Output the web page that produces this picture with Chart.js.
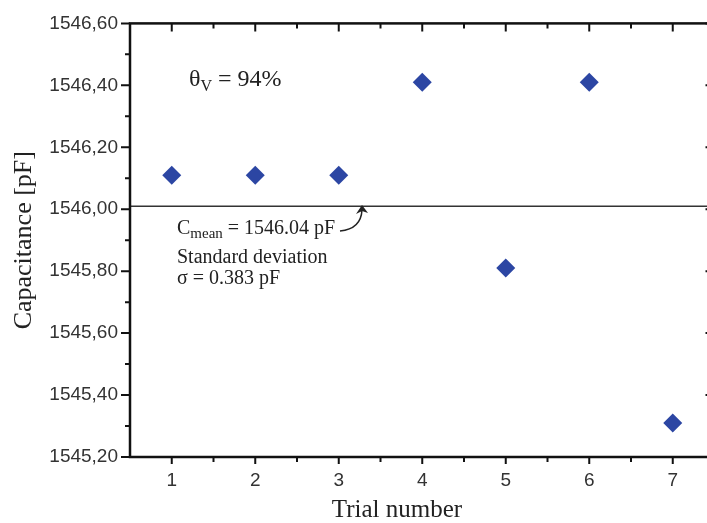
<!DOCTYPE html>
<html>
<head>
<meta charset="utf-8">
<script src="https://cdn.jsdelivr.net/npm/chart.js@4.4.1/dist/chart.umd.min.js"></script>
<style>
html, body { margin: 0; padding: 0; background: #fff; }
#wrap { width: 707px; height: 523px; overflow: hidden; }
canvas { display: block; }
</style>
</head>
<body>
<div id="wrap"><canvas id="capChart" width="725" height="523" style="width:725px;height:523px"></canvas></div>
<script>
// values
const trials = [1, 2, 3, 4, 5, 6, 7];
const capacitance = [1546.11, 1546.11, 1546.11, 1546.41, 1545.81, 1546.41, 1545.31];
const meanLine = 1546.01;
const xTicks = [1, 2, 3, 4, 5, 6, 7];
const xMinor = [1.5, 2.5, 3.5, 4.5, 5.5, 6.5];
const yTicks = [1545.2, 1545.4, 1545.6, 1545.8, 1546.0, 1546.2, 1546.4, 1546.6];
const yMinor = [1545.3, 1545.5, 1545.7, 1545.9, 1546.1, 1546.3, 1546.5];

const serif = '"Liberation Serif", "Times New Roman", serif';
const sans = '"Liberation Sans", Arial, sans-serif';

// draws the box, tick marks and the text notes
const framePlugin = {
    id: 'frame',
    afterDatasetsDraw(chart) {
        const ctx = chart.ctx;
        const a = chart.chartArea;
        const xs = chart.scales.x;
        const ys = chart.scales.y;
        ctx.save();
        ctx.strokeStyle = '#111';
        ctx.lineWidth = 2.5;
        ctx.strokeRect(a.left, a.top, a.right - a.left, a.bottom - a.top);

        ctx.lineWidth = 2;
        ctx.beginPath();
        xTicks.forEach(v => {
            const px = xs.getPixelForValue(v);
            ctx.moveTo(px, a.bottom); ctx.lineTo(px, a.bottom + 7);
            ctx.moveTo(px, a.top); ctx.lineTo(px, a.top + 8);
        });
        xMinor.forEach(v => {
            const px = xs.getPixelForValue(v);
            ctx.moveTo(px, a.bottom); ctx.lineTo(px, a.bottom + 5);
            ctx.moveTo(px, a.top); ctx.lineTo(px, a.top + 5);
        });
        yTicks.forEach(v => {
            const py = ys.getPixelForValue(v);
            ctx.moveTo(a.left, py); ctx.lineTo(a.left - 9, py);
            ctx.moveTo(a.right, py); ctx.lineTo(a.right - 9, py);
        });
        yMinor.forEach(v => {
            const py = ys.getPixelForValue(v);
            ctx.moveTo(a.left, py); ctx.lineTo(a.left - 5, py);
            ctx.moveTo(a.right, py); ctx.lineTo(a.right - 5, py);
        });
        ctx.stroke();

        ctx.fillStyle = '#222';
        ctx.textBaseline = 'alphabetic';
        ctx.textAlign = 'left';

        // theta_V = 94%
        let x = 189;
        ctx.font = '24px ' + serif;
        ctx.fillText('\u03B8', x, 86);
        x += ctx.measureText('\u03B8').width;
        ctx.font = '16px ' + serif;
        ctx.fillText('V', x, 91);
        x += ctx.measureText('V').width;
        ctx.font = '24px ' + serif;
        ctx.fillText(' = 94%', x, 86);

        // C_mean note
        x = 177;
        ctx.font = '20px ' + serif;
        ctx.fillText('C', x, 234);
        x += ctx.measureText('C').width;
        ctx.font = '15px ' + serif;
        ctx.fillText('mean', x, 238);
        x += ctx.measureText('mean').width;
        ctx.font = '20px ' + serif;
        ctx.fillText(' = 1546.04 pF', x, 234);
        ctx.fillText('Standard deviation', 177, 263);
        ctx.fillText('\u03C3 = 0.383 pF', 177, 284);

        // x axis title, centred where the original puts it
        ctx.textAlign = 'center';
        ctx.font = '25px ' + serif;
        ctx.fillText('Trial number', 397, 517);

        // curved arrow to the mean line
        ctx.strokeStyle = '#222';
        ctx.lineWidth = 1.5;
        ctx.beginPath();
        ctx.moveTo(340, 231);
        ctx.quadraticCurveTo(361, 229, 362, 210);
        ctx.stroke();
        ctx.beginPath();
        ctx.moveTo(362, 205);
        ctx.lineTo(356, 214);
        ctx.lineTo(362, 211);
        ctx.lineTo(368, 213);
        ctx.closePath();
        ctx.fill();
        ctx.restore();
    }
};

new Chart(document.getElementById('capChart'), {
    type: 'scatter',
    data: {
        datasets: [{
            label: 'Capacitance',
            data: trials.map((t, i) => ({ x: t, y: capacitance[i] })),
            pointStyle: 'rectRot',
            pointRadius: 9.5,
            pointHoverRadius: 9.5,
            backgroundColor: '#2c46a3',
            borderWidth: 0
        }, {
            type: 'line',
            label: 'Mean',
            data: [{ x: 0.5, y: meanLine }, { x: 7.5, y: meanLine }],
            borderColor: '#333',
            borderWidth: 1.5,
            pointRadius: 0,
            fill: false
        }]
    },
    options: {
        responsive: false,
        animation: false,
        devicePixelRatio: 1,
        layout: { padding: { left: 0, top: 20.5, right: 10.5, bottom: 0 } },
        plugins: { legend: { display: false }, tooltip: { enabled: false } },
        scales: {
            x: {
                type: 'linear',
                min: 0.5,
                max: 7.5,
                afterBuildTicks: scale => { scale.ticks = xTicks.map(v => ({ value: v })); },
                afterFit: scale => { scale.height = 66; },
                grid: { display: false, drawTicks: false },
                border: { display: false },
                ticks: {
                    padding: 12,
                    color: '#333',
                    font: { family: sans, size: 19 },
                    callback: v => String(v)
                }
            },
            y: {
                type: 'linear',
                min: 1545.2,
                max: 1546.6,
                afterBuildTicks: scale => { scale.ticks = yTicks.map(v => ({ value: v })); },
                afterFit: scale => { scale.width = 130; },
                grid: { display: false, drawTicks: false },
                border: { display: false },
                ticks: {
                    padding: 12,
                    color: '#333',
                    font: { family: sans, size: 19 },
                    callback: v => Number(v).toFixed(2).replace('.', ',')
                },
                title: {
                    display: true,
                    text: 'Capacitance [pF]',
                    color: '#222',
                    font: { family: serif, size: 26, lineHeight: 1 },
                    padding: { top: 11, bottom: 0 }
                }
            }
        }
    },
    plugins: [framePlugin]
});
</script>
</body>
</html>
